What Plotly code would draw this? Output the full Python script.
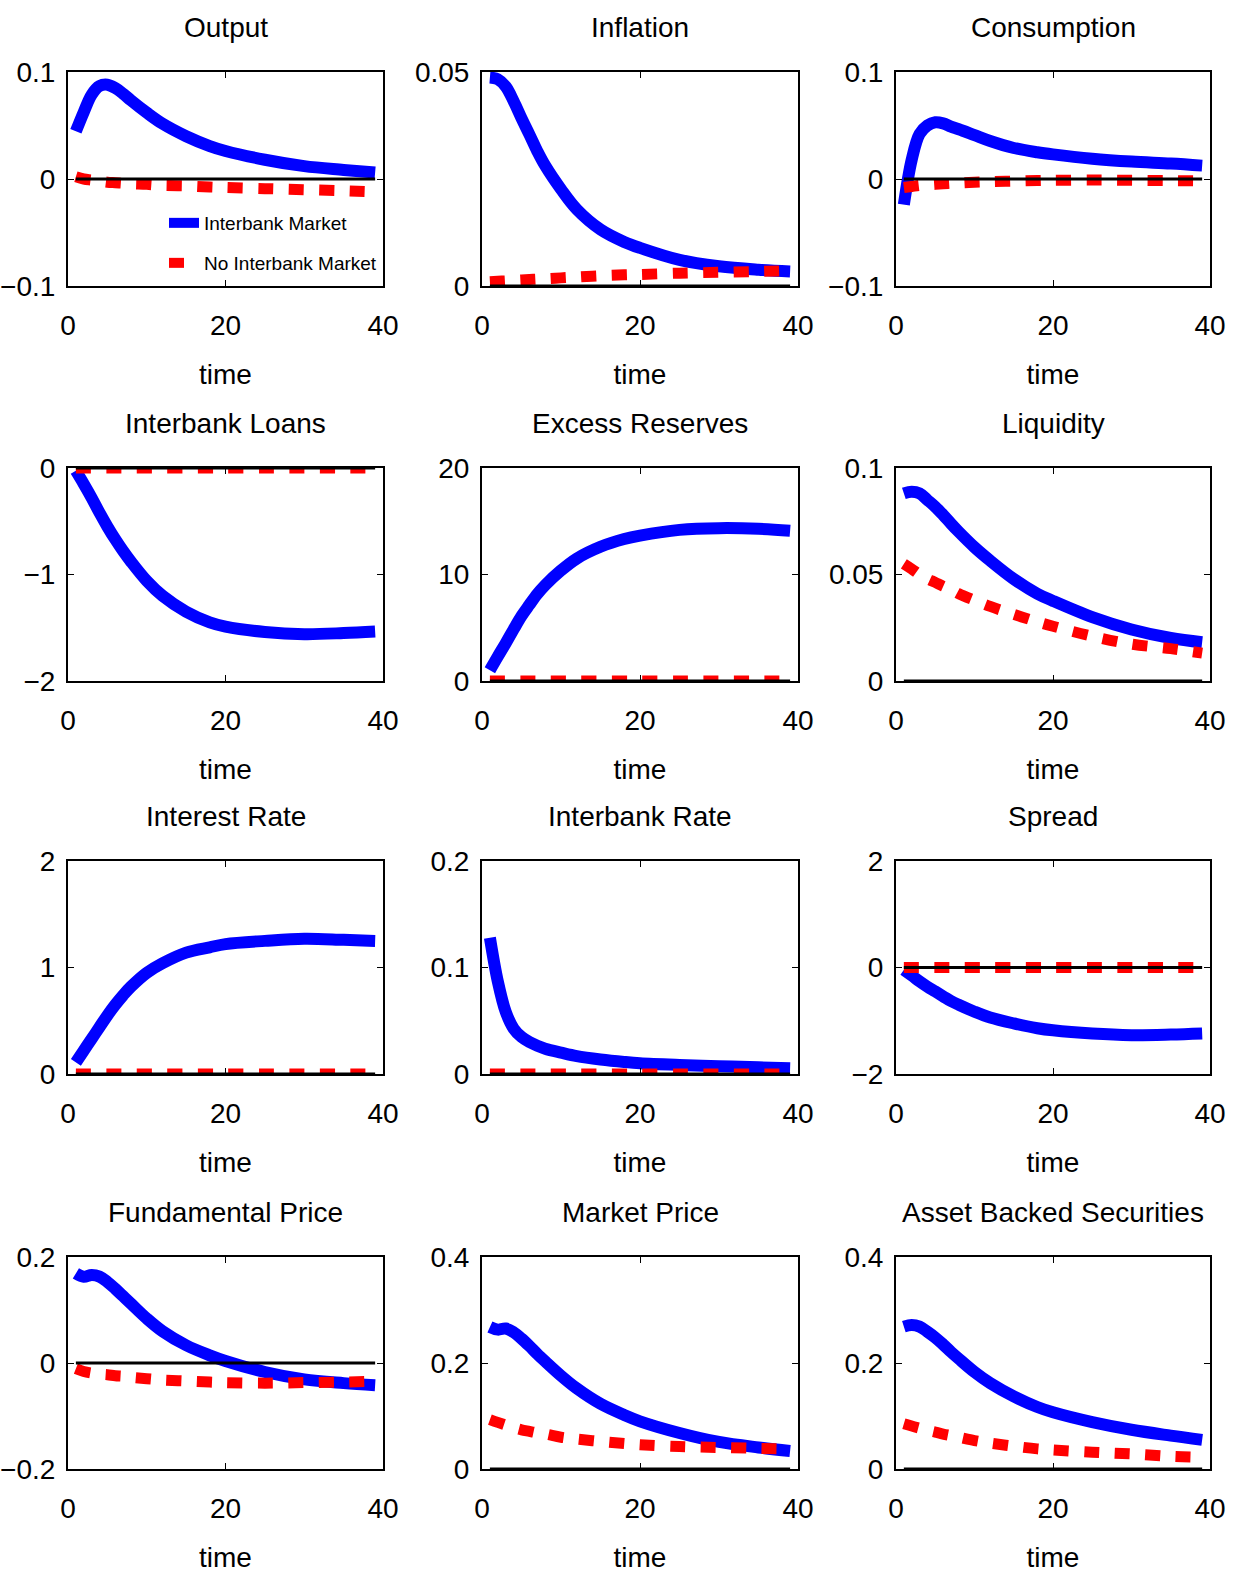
import plotly.graph_objects as go
from plotly.subplots import make_subplots

FONT = "Liberation Sans, Arial, Helvetica, sans-serif"

# common time points (periods)
T = [1, 2, 3, 4, 5, 6, 7, 8, 10, 12, 15, 18, 20, 25, 30, 35, 39]
T_ZERO = [1, 39]

titles = ["Output", "Inflation", "Consumption",
          "Interbank Loans", "Excess Reserves", "Liquidity",
          "Interest Rate", "Interbank Rate", "Spread",
          "Fundamental Price", "Market Price", "Asset Backed Securities"]

# "Interbank Market" series (blue)
output_ib = [0.0446, 0.0626, 0.0788, 0.0869, 0.0881, 0.085, 0.0797, 0.0735, 0.062, 0.0517, 0.040, 0.0308, 0.0262, 0.018, 0.012, 0.0085, 0.006]
inflation_ib = [0.0487, 0.0483, 0.0466, 0.0432, 0.0392, 0.0354, 0.0315, 0.0281, 0.0226, 0.0179, 0.0132, 0.0103, 0.0089, 0.0061, 0.0046, 0.0038, 0.0034]
consumption_ib = [-0.024, 0.018, 0.042, 0.050, 0.053, 0.052, 0.049, 0.0465, 0.041, 0.0355, 0.029, 0.025, 0.023, 0.019, 0.0163, 0.0144, 0.0125]
loans_ib = [-0.026, -0.15, -0.28, -0.42, -0.55, -0.67, -0.78, -0.88, -1.06, -1.20, -1.35, -1.45, -1.49, -1.54, -1.56, -1.55, -1.535]
reserves_ib = [1.02, 2.3, 3.55, 4.85, 6.1, 7.15, 8.16, 9.0, 10.38, 11.5, 12.6, 13.33, 13.65, 14.19, 14.35, 14.29, 14.1]
liquidity_ib = [0.0881, 0.0889, 0.0881, 0.085, 0.0818, 0.078, 0.0739, 0.070, 0.0628, 0.0565, 0.0479, 0.041, 0.0376, 0.030, 0.0242, 0.0202, 0.0182]
rate_ib = [0.11, 0.22, 0.33, 0.44, 0.55, 0.65, 0.74, 0.82, 0.95, 1.04, 1.14, 1.19, 1.22, 1.25, 1.27, 1.26, 1.25]
ibrate_ib = [0.128, 0.087, 0.0585, 0.0427, 0.0348, 0.030, 0.0265, 0.0237, 0.020, 0.0167, 0.0136, 0.0113, 0.0101, 0.0085, 0.0073, 0.0063, 0.0054]
spread_ib = [-0.045, -0.15, -0.26, -0.36, -0.45, -0.54, -0.63, -0.70, -0.83, -0.94, -1.05, -1.14, -1.18, -1.24, -1.27, -1.26, -1.24]
fundamental_ib = [0.169, 0.1626, 0.166, 0.163, 0.153, 0.140, 0.126, 0.112, 0.084, 0.060, 0.0335, 0.0145, 0.0038, -0.017, -0.031, -0.038, -0.042]
market_ib = [0.268, 0.263, 0.265, 0.258, 0.246, 0.232, 0.217, 0.203, 0.176, 0.152, 0.123, 0.102, 0.090, 0.068, 0.051, 0.0406, 0.034]
abs_ib = [0.2686, 0.2717, 0.2686, 0.259, 0.248, 0.235, 0.221, 0.208, 0.183, 0.162, 0.137, 0.117, 0.107, 0.0885, 0.074, 0.063, 0.055]

# "No Interbank Market" series (red dashed)
output_no = [0.002, 0.000, -0.001, -0.002, -0.003, -0.0035, -0.004, -0.0045, -0.005, -0.006, -0.0065, -0.0075, -0.008, -0.009, -0.010, -0.011, -0.012]
inflation_no = [0.001, 0.0011, 0.0012, 0.0013, 0.0014, 0.0015, 0.0016, 0.0017, 0.0019, 0.0021, 0.0024, 0.0026, 0.0027, 0.003, 0.0032, 0.0034, 0.0036]
consumption_no = [-0.008, -0.007, -0.006, -0.0055, -0.005, -0.0045, -0.004, -0.0037, -0.003, -0.0025, -0.002, -0.0015, -0.0012, -0.001, -0.0012, -0.0015, -0.0017]
loans_no = [0.0] * 17
reserves_no = [0.0] * 17
liquidity_no = [0.055, 0.0526, 0.050, 0.048, 0.0463, 0.0445, 0.043, 0.041, 0.0379, 0.035, 0.0313, 0.0278, 0.0257, 0.021, 0.0173, 0.0152, 0.0131]
rate_no = [0.0] * 17
ibrate_no = [0.0] * 17
spread_no = [0.0] * 17
fundamental_no = [-0.0107, -0.016, -0.019, -0.021, -0.022, -0.024, -0.025, -0.027, -0.0296, -0.032, -0.034, -0.036, -0.037, -0.038, -0.037, -0.036, -0.0346]
market_no = [0.0933, 0.088, 0.083, 0.078, 0.074, 0.071, 0.068, 0.066, 0.060, 0.0565, 0.052, 0.048, 0.0457, 0.0425, 0.0406, 0.039, 0.038]
abs_no = [0.0853, 0.081, 0.077, 0.073, 0.0696, 0.066, 0.063, 0.060, 0.0537, 0.049, 0.043, 0.038, 0.036, 0.0316, 0.0284, 0.024, 0.022]

ib_series = [output_ib, inflation_ib, consumption_ib, loans_ib, reserves_ib, liquidity_ib,
             rate_ib, ibrate_ib, spread_ib, fundamental_ib, market_ib, abs_ib]
no_series = [output_no, inflation_no, consumption_no, loans_no, reserves_no, liquidity_no,
             rate_no, ibrate_no, spread_no, fundamental_no, market_no, abs_no]

y_ranges = [[-0.1, 0.1], [0, 0.05], [-0.1, 0.1],
            [-2, 0], [0, 20], [0, 0.1],
            [0, 2], [0, 0.2], [-2, 2],
            [-0.2, 0.2], [0, 0.4], [0, 0.4]]
y_tickvals = [[-0.1, 0, 0.1], [0, 0.05], [-0.1, 0, 0.1],
              [-2, -1, 0], [0, 10, 20], [0, 0.05, 0.1],
              [0, 1, 2], [0, 0.1, 0.2], [-2, 0, 2],
              [-0.2, 0, 0.2], [0, 0.2, 0.4], [0, 0.2, 0.4]]
y_ticktext = [["\u22120.1", "0", "0.1"], ["0", "0.05"], ["\u22120.1", "0", "0.1"],
              ["\u22122", "\u22121", "0"], ["0", "10", "20"], ["0", "0.05", "0.1"],
              ["0", "1", "2"], ["0", "0.1", "0.2"], ["\u22122", "0", "2"],
              ["\u22120.2", "0", "0.2"], ["0", "0.2", "0.4"], ["0", "0.2", "0.4"]]
x_tickvals = [0, 20, 40]
x_ticktext = ["0", "20", "40"]

# layout geometry
W, H = 1237, 1574
ML, MR, MT, MB = 68, 27, 72, 105
PW, PH = W - ML - MR, H - MT - MB
col_px = [(68, 383), (482, 798), (896, 1210)]
row_px = [(72, 286), (468, 681), (861, 1074), (1257, 1469)]

fig = make_subplots(rows=4, cols=3)

BLUE = "#0000FF"
RED = "#FF0000"
FS = 28


def fnt(size):
    return dict(family=FONT, size=size, color="black")


for i in range(12):
    r, c = i // 3 + 1, i % 3 + 1
    first = i == 0
    fig.add_trace(go.Scatter(x=T, y=ib_series[i], mode="lines", name="Interbank Market",
                             line=dict(color=BLUE, width=12, shape="spline"),
                             showlegend=first, legend="legend"), row=r, col=c)
    fig.add_trace(go.Scatter(x=T, y=no_series[i], mode="lines", name="No Interbank Market",
                             line=dict(color=RED, width=11, dash="15px,15.5px", shape="spline"),
                             showlegend=first, legend="legend2"), row=r, col=c)
    fig.add_trace(go.Scatter(x=T_ZERO, y=[0, 0], mode="lines", line=dict(color="black", width=3),
                             showlegend=False, hoverinfo="skip"), row=r, col=c)

axis_common = dict(showline=True, linecolor="black", linewidth=2, mirror="ticks",
                   ticks="inside", ticklen=6, tickwidth=1, tickcolor="black",
                   showgrid=False, zeroline=False, tickfont=fnt(FS))

annotations = []
for i in range(12):
    r, c = i // 3, i % 3
    x0, x1 = col_px[c]
    y0, y1 = row_px[r]
    xd = [(x0 - ML) / PW, (x1 - ML) / PW]
    yd = [(H - MB - y1) / PH, (H - MB - y0) / PH]
    xd = [max(0, min(1, v)) for v in xd]
    yd = [max(0, min(1, v)) for v in yd]
    xname = "xaxis" if i == 0 else f"xaxis{i+1}"
    yname = "yaxis" if i == 0 else f"yaxis{i+1}"
    fig.layout[xname].update(domain=xd, range=[0, 40], tickvals=x_tickvals, ticktext=x_ticktext,
                             ticklabelstandoff=13,
                             title=dict(text="time", standoff=25, font=fnt(FS)),
                             **axis_common)
    fig.layout[yname].update(domain=yd, range=y_ranges[i], tickvals=y_tickvals[i], ticktext=y_ticktext[i],
                             ticklabelstandoff=5, **axis_common)
    annotations.append(dict(text=titles[i], x=(xd[0] + xd[1]) / 2, y=yd[1], xref="paper", yref="paper",
                            xanchor="center", yanchor="middle", yshift=45, showarrow=False,
                            font=fnt(FS)))

fig.update_layout(
    width=W, height=H,
    margin=dict(l=ML, r=MR, t=MT, b=MB, autoexpand=False),
    paper_bgcolor="white", plot_bgcolor="white",
    annotations=annotations,
    legend=dict(x=(164 - ML) / PW, y=(H - MB - 223) / PH, xanchor="left", yanchor="middle",
                bgcolor="rgba(0,0,0,0)", borderwidth=0, font=fnt(19)),
    legend2=dict(x=(164 - ML) / PW, y=(H - MB - 263) / PH, xanchor="left", yanchor="middle",
                 bgcolor="rgba(0,0,0,0)", borderwidth=0, font=fnt(19)),
)

fig.write_html("out.html")
